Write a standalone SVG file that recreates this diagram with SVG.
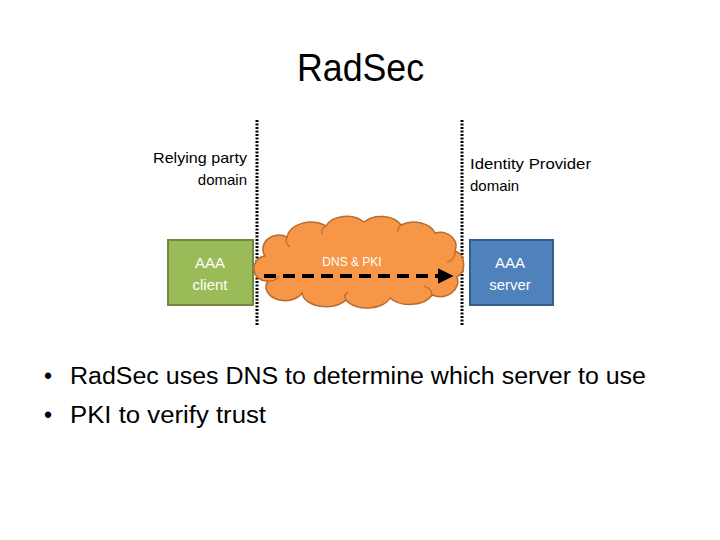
<svg xmlns="http://www.w3.org/2000/svg" width="720" height="540" viewBox="0 0 720 540">
  <style>
    text { font-family: "Liberation Sans", "DejaVu Sans", sans-serif; }
    .lbl { font-size: 15px; fill: #000; }
    .box-txt { font-size: 15px; fill: #fff; text-anchor: middle; }
    .divider { stroke: #000; stroke-width: 3; stroke-dasharray: 2 1.5; fill: none; }
    .bullet { font-size: 23px; fill: #000; }
  </style>
  <defs>
    <marker id="arrow" viewBox="0 0 10 10" refX="9" refY="5" markerWidth="4" markerHeight="4" markerUnits="strokeWidth" orient="auto">
      <path d="M0,0 L10,5 L0,10 Z" fill="#000"/>
    </marker>
  </defs>
  <rect width="720" height="540" fill="#fff"/>

  <text x="297" y="81" font-size="38" fill="#000" textLength="127" lengthAdjust="spacingAndGlyphs">RadSec</text>

  <g id="dividers">
    <line class="divider" x1="257" y1="120" x2="257" y2="326"/>
    <line class="divider" x1="462" y1="120" x2="462" y2="326"/>
  </g>

  <g id="rp-label">
    <text class="lbl" x="153" y="163" textLength="94" lengthAdjust="spacingAndGlyphs">Relying party</text>
    <text class="lbl" x="247" y="185" text-anchor="end">domain</text>
  </g>
  <g id="idp-label">
    <text class="lbl" x="470" y="169" textLength="121" lengthAdjust="spacingAndGlyphs">Identity Provider</text>
    <text class="lbl" x="470" y="191">domain</text>
  </g>

  <g id="aaa-client">
    <rect x="168" y="240" width="85" height="65" fill="#9BBB59" stroke="#71893F" stroke-width="2"/>
    <text class="box-txt" x="210" y="268">AAA</text>
    <text class="box-txt" x="210" y="290">client</text>
  </g>

  <g id="aaa-server">
    <rect x="470" y="240" width="83" height="65" fill="#4F81BD" stroke="#385D8A" stroke-width="2"/>
    <text class="box-txt" x="510" y="268">AAA</text>
    <text class="box-txt" x="510" y="290">server</text>
  </g>

  <g id="cloud">
    <path d="M 265,256 A 16,14 0 0 1 287,237 A 24,17 0 0 1 326,226 A 22,15 0 0 1 364,222 A 22,15 0 0 1 401,225 A 22,15 0 0 1 435,233 A 16,14 0 0 1 455,251 A 12,14 0 0 1 457,277 A 18,15 0 0 1 432,295 A 24,15 0 0 1 390,298 A 24,15 0 0 1 346,300 A 24,15 0 0 1 302,293 A 18,13 0 0 1 268,281 A 12,12 0 0 1 265,256 Z" fill="#F79646" stroke="#B66D31" stroke-width="1.5"/>
    <path d="M 287,237 A 14,10 0 0 0 290,247" fill="none" stroke="#B66D31" stroke-width="1.2"/>
    <path d="M 326,226 A 12,8 0 0 0 322,234" fill="none" stroke="#B66D31" stroke-width="1.2"/>
    <path d="M 401,225 A 10,8 0 0 0 398,232" fill="none" stroke="#B66D31" stroke-width="1.2"/>
    <path d="M 455,251 A 10,10 0 0 1 447,262" fill="none" stroke="#B66D31" stroke-width="1.2"/>
    <path d="M 432,295 A 14,10 0 0 0 424,286" fill="none" stroke="#B66D31" stroke-width="1.2"/>
    <path d="M 346,300 A 14,8 0 0 1 348,292" fill="none" stroke="#B66D31" stroke-width="1.2"/>
    <path d="M 268,281 A 10,8 0 0 0 279,276" fill="none" stroke="#B66D31" stroke-width="1.2"/>
    <text x="352" y="266" font-size="12" fill="#fff" text-anchor="middle">DNS &amp; PKI</text>
  </g>

  <g id="connectors">
    <line x1="264" y1="276" x2="452" y2="276" stroke="#000" stroke-width="4" stroke-dasharray="12 7" marker-end="url(#arrow)"/>
  </g>

  <g id="bullets">
    <text class="bullet" x="44" y="384">•</text>
    <text class="bullet" x="70" y="384" textLength="576" lengthAdjust="spacingAndGlyphs">RadSec uses DNS to determine which server to use</text>
    <text class="bullet" x="44" y="423">•</text>
    <text class="bullet" x="70" y="423" textLength="196" lengthAdjust="spacingAndGlyphs">PKI to verify trust</text>
  </g>
</svg>
